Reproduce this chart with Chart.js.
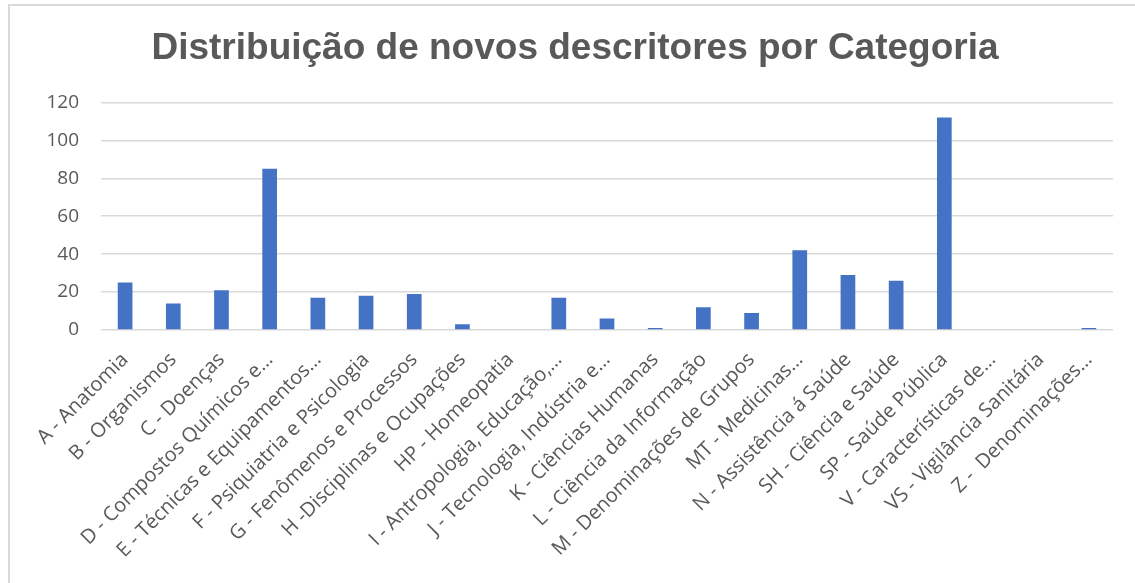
<!DOCTYPE html>
<html>
<head>
<meta charset="utf-8">
<script src="https://cdn.jsdelivr.net/npm/chart.js@4"></script>
<style>
    body { margin: 0; background: #fff; overflow: hidden; }
    #frame { position: absolute; left: 8px; top: 4px; width: 1200px; height: 700px; border: 2px solid #d9d9d9; box-sizing: border-box; }
    #wrap { position: absolute; left: 0; top: 0; width: 1135px; height: 583px; }
</style>
</head>
<body>
<div id="frame"></div>
<div id="wrap"><canvas id="categoriaChart" width="1135" height="583"></canvas></div>
<script>
// categorias e quantidade de novos descritores
const categorias = [
    'A - Anatomia',
    'B - Organismos',
    'C - Doenças',
    'D - Compostos Químicos e…',
    'E - Técnicas e Equipamentos…',
    'F - Psiquiatria e Psicologia',
    'G - Fenômenos e Processos',
    'H -Disciplinas e Ocupações',
    'HP - Homeopatia',
    'I - Antropologia, Educação,…',
    'J - Tecnologia, Indústria e…',
    'K - Ciências Humanas',
    'L - Ciência da Informação',
    'M - Denominações de Grupos',
    'MT - Medicinas…',
    'N - Assistência á Saúde',
    'SH - Ciência e Saúde',
    'SP - Saúde Pública',
    'V - Características de…',
    'VS - Vigilância Sanitária',
    'Z -  Denominações…',
];

const novosDescritores = [25, 14, 21, 85, 17, 18, 19, 3, 0, 17, 6, 1, 12, 9, 42, 29, 26, 112, 0, 0, 1];

const ticksY = [0, 20, 40, 60, 80, 100, 120];

const cinza = '#595959';

const config = {
    type: 'bar',
    data: {
        labels: categorias,
        datasets: [{
            data: novosDescritores,
            backgroundColor: '#4472C4',
            categoryPercentage: 0.61,
            barPercentage: 0.5,
        }]
    },
    options: {
        responsive: false,
        animation: false,
        layout: {
            padding: { left: 15, right: 0, top: 0, bottom: 0 }
        },
        plugins: {
            legend: { display: false },
            tooltip: { enabled: false },
            title: {
                display: true,
                text: 'Distribuição de novos descritores por Categoria',
                color: cinza,
                font: { family: 'Liberation Sans', size: 37, weight: 'bold' },
                padding: { top: 27, bottom: 31 },
            }
        },
        scales: {
            x: {
                grid: { display: false },
                border: { display: false },
                ticks: {
                    autoSkip: false,
                    maxRotation: 45,
                    minRotation: 45,
                    color: cinza,
                    padding: 10,
                    font: { family: 'Open Sans', size: 20 },
                },
                afterFit: function (scale) { scale.height = 253; }
            },
            y: {
                min: 0,
                max: 120,
                afterBuildTicks: function (scale) {
                    scale.ticks = ticksY.map(v => ({ value: v }));
                },
                grid: { color: '#d9d9d9', lineWidth: 1.5, drawTicks: false },
                border: { display: false },
                ticks: {
                    color: cinza,
                    padding: 22,
                    font: { family: 'Open Sans', size: 19 },
                },
                afterFit: function (scale) { scale.width = 86; }
            },
            margemDireita: {
                type: 'linear',
                position: 'right',
                grid: { display: false },
                border: { display: false },
                ticks: { display: false },
                afterFit: function (scale) { scale.width = 22; }
            }
        }
    }
};

const categoriaChart = new Chart(document.getElementById('categoriaChart'), config);
</script>
</body>
</html>
